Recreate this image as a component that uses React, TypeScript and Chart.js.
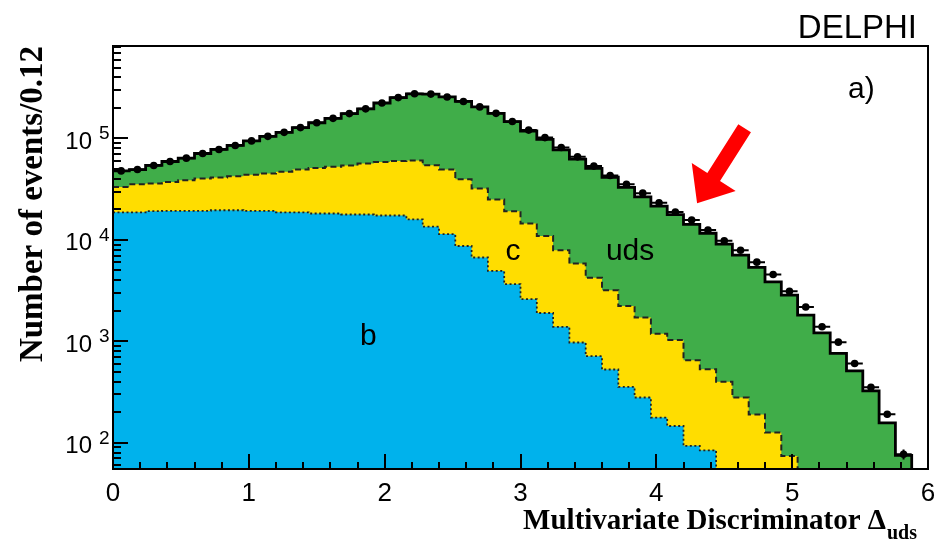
import React, { useEffect, useRef } from "react";
import { Chart, registerables } from "chart.js";

Chart.register(...registerables);

// ---- binning / axis ranges ----
const binWidth = 0.12;
const xMin = 0;
const xMax = 6;
const yMin = 55;
const yMax = 817000;

// ---- simulated components (events per bin, 50 bins of 0.12) ----
const bValues = [
  18700, 18700, 19200, 19300, 19300, 19300, 19600, 19600, 19300, 19300,
  18700, 18700, 18200, 18200, 17800, 17800, 17400, 17400, 15900, 13500,
  11400, 8700, 6700, 4940, 3660, 2600, 1900, 1390, 973, 713,
  527, 355, 279, 177, 146, 93, 84, 0, 0, 0,
  0, 0, 0, 0, 0, 0, 0, 0, 0, 0,
];
const cValues = [
  14600, 16700, 16700, 18000, 19500, 21000, 21700, 22900, 24500, 25900,
  28200, 30800, 33100, 34300, 36400, 38900, 41400, 42700, 44600, 41100,
  38000, 31000, 25400, 20100, 15500, 11900, 9000, 6500, 4880, 3510,
  2660, 1870, 1440, 1010, 884, 558, 447, 398, 279, 190,
  126, 74, 0, 0, 0, 0, 0, 0, 0, 0,
];
const udsValues = [
  14600, 14000, 18300, 22000, 25200, 30800, 36700, 42900, 50900, 59800,
  68100, 78500, 91700, 105500, 121800, 139300, 165200, 192900, 215500, 219400,
  207600, 192300, 172900, 152000, 127800, 104100, 87000, 69500, 56800, 46500,
  38300, 30700, 24800, 20300, 16700, 13600, 11100, 8670, 6780, 5160,
  3730, 2780, 1810, 1210, 759, 511, 324, 157, 75, 0,
];
// ---- measured data ----
const dataValues = [
  47900, 49400, 54200, 59300, 64000, 71100, 78000, 85400, 94700, 105000,
  115000, 128000, 143000, 158000, 176000, 196000, 224000, 253000, 276000, 274000,
  257000, 232000, 205000, 177000, 147000, 121000, 102000, 81500, 65900, 53400,
  43200, 35400, 28900, 23200, 18800, 15700, 12500, 9800, 7900, 6030,
  4560, 3120, 2180, 1390, 980, 604, 352, 191, 77, 0,
];

// ---- tick labels ----
const xTickValues = [0, 1, 2, 3, 4, 5, 6];
const xTickLabels = ["0", "1", "2", "3", "4", "5", "6"];
const yTickExponents = [2, 3, 4, 5];

// ---- annotations (data coordinates) ----
const componentLabels = [
  { text: "b", x: 1.88, y: 917 },
  { text: "c", x: 2.945, y: 6380 },
  { text: "uds", x: 3.807, y: 6380 },
];
const arrowTip = { x: 4.3, y: 23000 };
const arrowTail = { x: 4.65, y: 126000 };

const colors = {
  b: "rgb(0,178,236)",
  c: "rgb(255,221,0)",
  uds: "rgb(64,173,73)",
};

const FLOOR = 1; // below the axis minimum, used for empty bins

function cumulative(...series: number[][]) {
  return series[0].map((_, i) => series.reduce((s, arr) => s + arr[i], 0));
}

function stepPoints(vals: number[]) {
  const pts = vals.map((v, i) => ({ x: xMin + i * binWidth, y: v > 0 ? v : FLOOR }));
  pts.push({ x: xMax, y: pts[pts.length - 1].y });
  return pts;
}

const overlayPlugin = {
  id: "overlay",
  afterDatasetsDraw(chart: any) {
    const ctx: CanvasRenderingContext2D = chart.ctx;
    const xs = chart.scales.x;
    const ys = chart.scales.y;
    const a = chart.chartArea;
    ctx.save();

    // error bars of data points
    ctx.beginPath();
    ctx.rect(a.left, a.top, a.right - a.left, a.bottom - a.top);
    ctx.clip();
    ctx.strokeStyle = "#000";
    ctx.lineWidth = 2;
    dataValues.forEach((v, i) => {
      if (v <= 0) return;
      const x0 = xs.getPixelForValue(xMin + i * binWidth);
      const x1 = xs.getPixelForValue(xMin + (i + 1) * binWidth);
      const xc = (x0 + x1) / 2;
      const y = ys.getPixelForValue(v);
      const e = Math.sqrt(v);
      ctx.beginPath();
      ctx.moveTo(x0, y);
      ctx.lineTo(x1, y);
      ctx.moveTo(xc, ys.getPixelForValue(v + e));
      ctx.lineTo(xc, ys.getPixelForValue(Math.max(v - e, 1)));
      ctx.stroke();
    });
    ctx.restore();
    ctx.save();

    // frame
    ctx.strokeStyle = "#000";
    ctx.lineWidth = 2;
    ctx.strokeRect(a.left, a.top, a.right - a.left, a.bottom - a.top);

    // x ticks (inside, bottom)
    ctx.lineWidth = 2;
    ctx.beginPath();
    for (let k = 1; k < 30; k++) {
      const t = xMin + k * 0.2;
      const px = Math.round(xs.getPixelForValue(t));
      const len = k % 5 === 0 ? 15 : 7;
      ctx.moveTo(px, a.bottom);
      ctx.lineTo(px, a.bottom - len);
    }
    ctx.stroke();

    // y ticks (inside, left)
    ctx.beginPath();
    for (let d = 1; d <= 5; d++) {
      for (let m = 1; m <= 9; m++) {
        const v = m * Math.pow(10, d);
        if (v < yMin || v > yMax) continue;
        const py = Math.round(ys.getPixelForValue(v));
        const len = m === 1 ? 15 : 8;
        ctx.moveTo(a.left, py);
        ctx.lineTo(a.left + len, py);
      }
    }
    ctx.stroke();

    ctx.fillStyle = "#000";
    // x tick labels
    ctx.font = '26px "Liberation Sans", Arial, sans-serif';
    ctx.textAlign = "center";
    ctx.textBaseline = "alphabetic";
    xTickValues.forEach((t, k) => {
      ctx.fillText(xTickLabels[k], xs.getPixelForValue(t), a.bottom + 32);
    });

    // y tick labels 10^n
    yTickExponents.forEach((e) => {
      const py = ys.getPixelForValue(Math.pow(10, e));
      ctx.font = '24px "Liberation Sans", Arial, sans-serif';
      ctx.textAlign = "right";
      ctx.fillText("10", a.left - 21, py + 10.5);
      ctx.font = '19px "Liberation Sans", Arial, sans-serif';
      ctx.textAlign = "left";
      ctx.fillText(String(e), a.left - 14, py + 1);
    });

    // axis titles
    ctx.font = 'bold 33px "Liberation Serif", "Times New Roman", serif';
    ctx.save();
    ctx.translate(42, 204);
    ctx.rotate(-Math.PI / 2);
    ctx.textAlign = "center";
    ctx.fillText("Number of events/0.12", 0, 0);
    ctx.restore();

    ctx.font = 'bold 20px "Liberation Serif", "Times New Roman", serif';
    const subW = ctx.measureText("uds").width;
    const xTitleRight = a.right - 11;
    ctx.textAlign = "right";
    ctx.fillText("uds", xTitleRight, a.bottom + 70);
    ctx.font = 'bold 29px "Liberation Serif", "Times New Roman", serif';
    ctx.fillText("Multivariate Discriminator \u0394", xTitleRight - subW - 1, a.bottom + 60);

    // DELPHI and panel label
    ctx.font = '33px "Liberation Sans", Arial, sans-serif';
    ctx.textAlign = "right";
    ctx.fillText("DELPHI", a.right - 11, a.top - 8);
    ctx.font = '30px "Liberation Sans", Arial, sans-serif';
    ctx.textAlign = "left";
    ctx.fillText("a)", a.right - 80, a.top + 52);

    // component labels
    ctx.font = '30px "Liberation Sans", Arial, sans-serif';
    ctx.textAlign = "center";
    componentLabels.forEach((l) => {
      ctx.fillText(l.text, xs.getPixelForValue(l.x), ys.getPixelForValue(l.y));
    });

    // red arrow
    const tx = xs.getPixelForValue(arrowTip.x);
    const ty = ys.getPixelForValue(arrowTip.y);
    const sx = xs.getPixelForValue(arrowTail.x);
    const sy = ys.getPixelForValue(arrowTail.y);
    const L = Math.hypot(tx - sx, ty - sy);
    const ux = (tx - sx) / L;
    const uy = (ty - sy) / L;
    const nx = -uy;
    const ny = ux;
    const headLen = 31;
    const headHalf = 26;
    const shaftHalf = 7.5;
    const bx = tx - ux * headLen;
    const by = ty - uy * headLen;
    ctx.fillStyle = "rgb(255,0,0)";
    ctx.beginPath();
    ctx.moveTo(sx + nx * shaftHalf, sy + ny * shaftHalf);
    ctx.lineTo(bx + nx * shaftHalf, by + ny * shaftHalf);
    ctx.lineTo(bx + nx * headHalf, by + ny * headHalf);
    ctx.lineTo(tx, ty);
    ctx.lineTo(bx - nx * headHalf, by - ny * headHalf);
    ctx.lineTo(bx - nx * shaftHalf, by - ny * shaftHalf);
    ctx.lineTo(sx - nx * shaftHalf, sy - ny * shaftHalf);
    ctx.closePath();
    ctx.fill();

    ctx.restore();
  },
};

export default function App() {
  const canvasRef = useRef<HTMLCanvasElement | null>(null);

  useEffect(() => {
    if (!canvasRef.current) return;
    const B = cumulative(bValues);
    const BC = cumulative(bValues, cValues);
    const T = cumulative(bValues, cValues, udsValues);
    const dataPts = dataValues
      .map((v, i) => ({ x: xMin + (i + 0.5) * binWidth, y: v }))
      .filter((p) => p.y > 0);

    const fillDs = (vals: number[], color: string, order: number) => ({
      data: stepPoints(vals),
      stepped: "before",
      fill: "start",
      backgroundColor: color,
      borderColor: "rgba(0,0,0,0)",
      borderWidth: 0,
      pointRadius: 0,
      order,
    });
    const lineDs = (vals: number[], width: number, dash: number[], color: string, order: number) => ({
      data: stepPoints(vals),
      stepped: "before",
      fill: false,
      borderColor: color,
      borderWidth: width,
      borderDash: dash,
      pointRadius: 0,
      order,
    });

    const chart = new Chart(canvasRef.current, {
      type: "line",
      data: {
        datasets: [
          fillDs(T, colors.uds, 10),
          fillDs(BC, colors.c, 9),
          fillDs(B, colors.b, 8),
          lineDs(B, 1.8, [2, 2.5], "#222", 3),
          lineDs(BC, 2, [6, 3.5], "#222", 2),
          lineDs(T, 2.8, [], "#000", 1),
          {
            data: dataPts,
            showLine: false,
            pointRadius: 3.8,
            pointBackgroundColor: "#000",
            pointBorderColor: "#000",
            pointBorderWidth: 0,
            order: 0,
          },
        ] as any,
      },
      options: {
        responsive: false,
        animation: false,
        devicePixelRatio: 1,
        events: [],
        layout: { padding: { left: 113, right: 9, top: 46, bottom: 73 } },
        plugins: { legend: { display: false }, tooltip: { enabled: false } },
        scales: {
          x: { type: "linear", min: xMin, max: xMax, display: false },
          y: { type: "logarithmic", min: yMin, max: yMax, display: false },
        },
      },
      plugins: [overlayPlugin],
    } as any);
    return () => chart.destroy();
  }, []);

  return (
    <div style={{ position: "fixed", left: 0, top: 0, width: 937, height: 542, background: "#fff" }}>
      <canvas ref={canvasRef} width={937} height={542} />
    </div>
  );
}
